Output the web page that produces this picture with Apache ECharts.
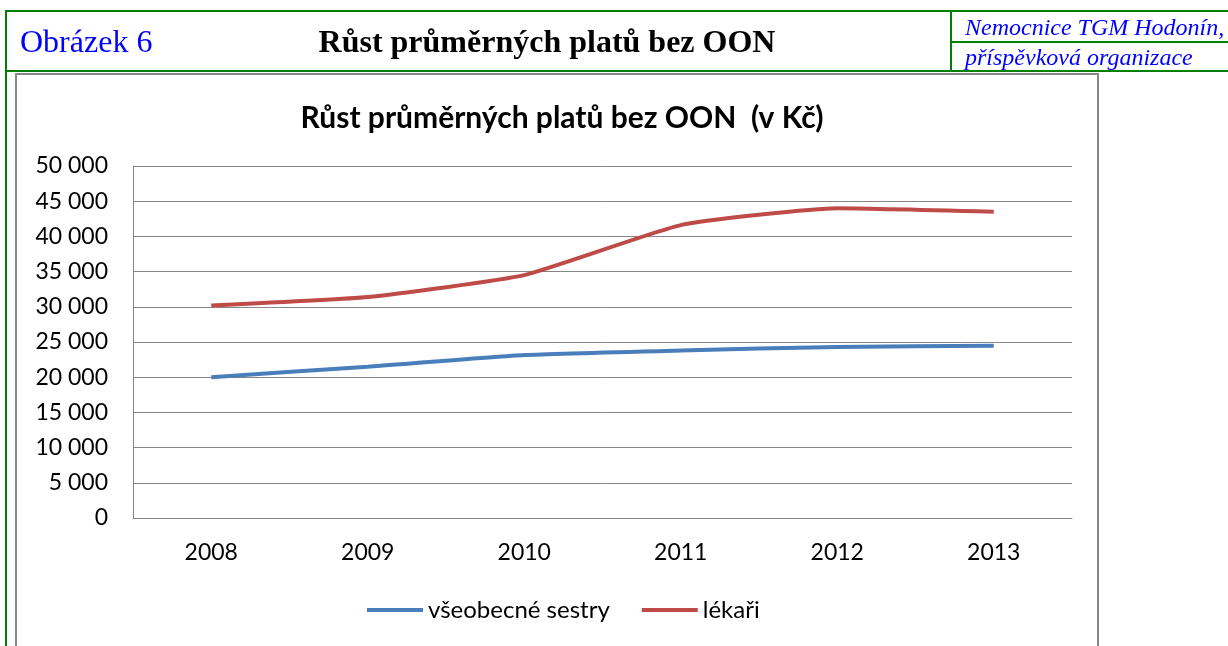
<!DOCTYPE html>
<html>
<head>
    <meta charset="utf-8">
    <title>Růst průměrných platů bez OON</title>
    <script src="https://cdn.jsdelivr.net/npm/echarts@6/dist/echarts.min.js"></script>
    <style>
        body { margin: 0; background: #fff; }
        #page { position: relative; width: 1228px; height: 646px; overflow: hidden; }
        /* hlavička s zeleným rámečkem */
        .gline { position: absolute; background: #008000; }
        .frame { position: absolute; background: #888; }
        .hdr { position: absolute; font-family: "Liberation Serif", "DejaVu Serif", serif; white-space: nowrap; line-height: 1.15; }
        #chart { position: absolute; left: 0; top: 0; width: 1228px; height: 646px; }
    </style>
</head>
<body>
<div id="page">
    <div id="chart"></div>
    <!-- zelené čáry hlavičky -->
    <div class="gline" style="left:6px; top:10px; width:1222px; height:2px;"></div>
    <div class="gline" style="left:6px; top:70px; width:1222px; height:2px;"></div>
    <div class="gline" style="left:5px; top:10px; width:2px; height:636px;"></div>
    <div class="gline" style="left:950px; top:10px; width:2px; height:62px;"></div>
    <div class="gline" style="left:950px; top:41px; width:278px; height:2px;"></div>
    <!-- šedý rámeček grafu -->
    <div class="frame" style="left:15px; top:73px; width:2px; height:573px;"></div>
    <div class="frame" style="left:15px; top:73px; width:1084px; height:2px;"></div>
    <div class="frame" style="left:1097px; top:73px; width:2px; height:573px;"></div>

    <div class="hdr" style="left:20px; top:23px; font-size:32px; color:#0000ff;">Obrázek 6</div>
    <div class="hdr" style="left:297px; top:23px; width:500px; text-align:center; font-size:32px; font-weight:bold; color:#000;">Růst průměrných platů bez OON</div>
    <div class="hdr" style="left:965px; top:14px; font-size:24px; font-style:italic; color:#0000ff;">Nemocnice TGM Hodonín,</div>
    <div class="hdr" style="left:965px; top:44px; font-size:24px; font-style:italic; color:#0000ff;">příspěvková organizace</div>
</div>
<script>
    // data grafu
    var years = ['2008', '2009', '2010', '2011', '2012', '2013'];
    var sestry = [20000, 21500, 23150, 23800, 24300, 24450];
    var lekari = [30200, 31400, 34500, 41600, 44000, 43500];
    var seriesNames = ['všeobecné sestry', 'lékaři'];
    var seriesColors = ['#4a7ebb', '#be4b48'];

    var myChart = echarts.init(document.getElementById('chart'));
    var font = 'Lato, "Open Sans", sans-serif';

    myChart.setOption({
        animation: false,
        title: {
            text: 'Růst průměrných platů bez OON  (v Kč)',
            left: 557,
            textAlign: 'center',
            top: 98,
            textStyle: { fontFamily: font, fontSize: 30, fontWeight: 'bold', color: '#000' }
        },
        legend: {
            data: seriesNames,
            top: 593,
            left: 362,
            itemWidth: 56,
            itemHeight: 4,
            itemGap: 32,
            icon: 'rect',
            textStyle: { fontFamily: font, fontSize: 24, color: '#000' }
        },
        grid: { left: 133, top: 166, right: 156, bottom: 128 },
        xAxis: {
            type: 'category',
            data: years,
            boundaryGap: true,
            axisLine: { lineStyle: { color: '#868686' } },
            axisTick: { show: false },
            axisLabel: { fontFamily: font, fontSize: 23, color: '#000', margin: 23 }
        },
        yAxis: {
            type: 'value',
            min: 0,
            max: 50000,
            interval: 5000,
            axisLine: { show: true, lineStyle: { color: '#868686' } },
            axisTick: { show: false },
            splitLine: { lineStyle: { color: '#868686', width: 1 } },
            axisLabel: {
                fontFamily: font, fontSize: 23, color: '#000', margin: 25,
                formatter: function (v) {
                    return String(v).replace(/\B(?=(\d{3})+(?!\d))/g, ' ');
                }
            }
        },
        series: [{
            name: seriesNames[0],
            type: 'line',
            data: sestry,
            smooth: 0.15,
            symbol: 'none',
            lineStyle: { width: 4, color: seriesColors[0] },
            itemStyle: { color: seriesColors[0] }
        }, {
            name: seriesNames[1],
            type: 'line',
            data: lekari,
            smooth: 0.15,
            symbol: 'none',
            lineStyle: { width: 4, color: seriesColors[1] },
            itemStyle: { color: seriesColors[1] }
        }]
    });
</script>
</body>
</html>
